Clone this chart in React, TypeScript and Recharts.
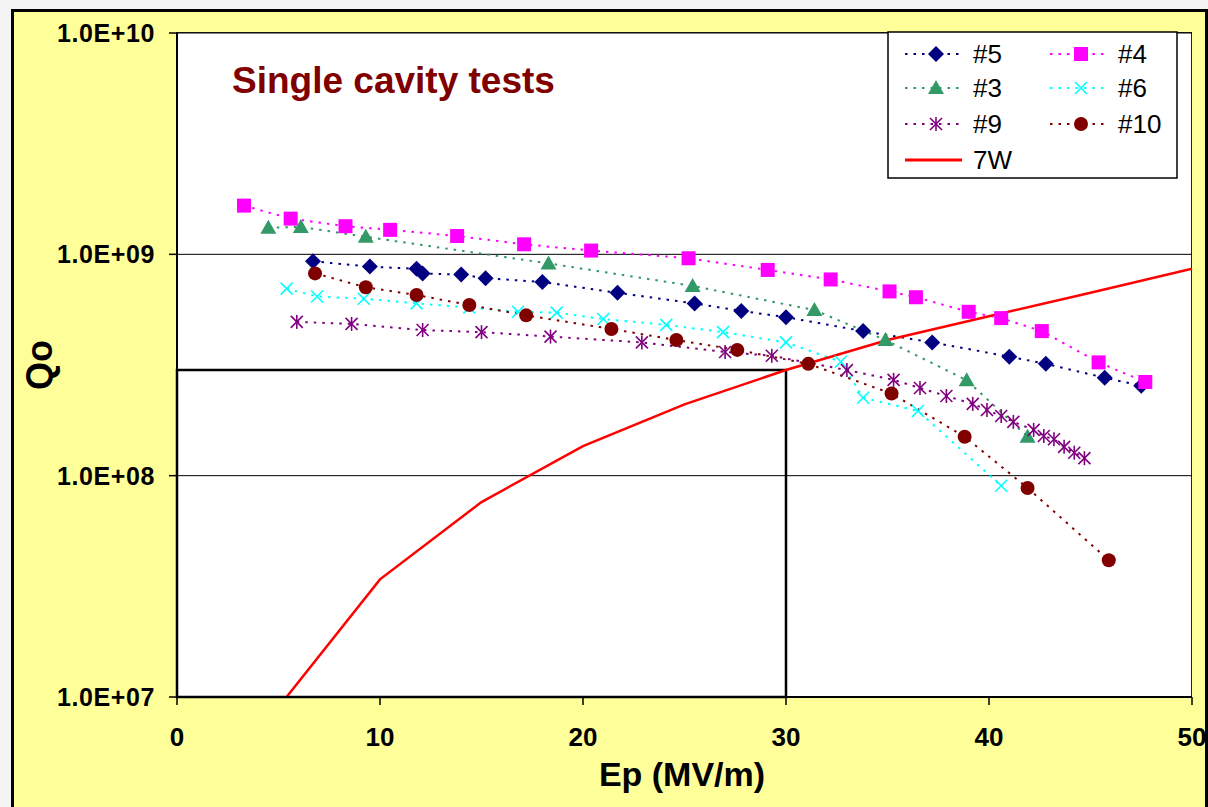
import React from "react";
import {
  ComposedChart,
  Line,
  XAxis,
  YAxis,
  CartesianGrid,
  ReferenceArea,
} from "recharts";

// Ep (MV/m) and Qo, per cavity
const ep5 = [6.7, 9.5, 11.8, 12.1, 14.0, 15.2, 18.0, 21.7, 25.5, 27.8, 30.0, 33.8, 37.2, 41.0, 42.8, 45.7, 47.5];
const q5 = [9.3e8, 8.8e8, 8.6e8, 8.2e8, 8.1e8, 7.8e8, 7.5e8, 6.7e8, 6.0e8, 5.55e8, 5.2e8, 4.5e8, 4.0e8, 3.45e8, 3.2e8, 2.77e8, 2.55e8];

const ep4 = [3.3, 5.6, 8.3, 10.5, 13.8, 17.1, 20.4, 25.2, 29.1, 32.2, 35.1, 36.4, 39.0, 40.6, 42.6, 45.4, 47.7];
const q4 = [1.66e9, 1.45e9, 1.34e9, 1.29e9, 1.21e9, 1.11e9, 1.04e9, 9.6e8, 8.5e8, 7.7e8, 6.8e8, 6.4e8, 5.5e8, 5.15e8, 4.5e8, 3.25e8, 2.65e8];

const ep3 = [4.5, 6.1, 9.3, 18.3, 25.4, 31.4, 34.9, 38.9, 41.9];
const q3 = [1.32e9, 1.33e9, 1.2e9, 9.1e8, 7.2e8, 5.6e8, 4.1e8, 2.7e8, 1.5e8];

const ep6 = [5.4, 6.9, 9.2, 11.8, 14.4, 16.8, 18.7, 21.0, 24.1, 26.9, 30.0, 32.7, 33.8, 36.5, 40.6];
const q6 = [7.0e8, 6.45e8, 6.3e8, 6.0e8, 5.75e8, 5.5e8, 5.45e8, 5.1e8, 4.8e8, 4.45e8, 4.0e8, 3.27e8, 2.25e8, 1.96e8, 9.0e7];

const ep9 = [5.9, 8.6, 12.1, 15.0, 18.4, 22.9, 27.0, 29.3, 33.0, 35.3, 36.6, 37.9, 39.2, 39.9, 40.6, 41.2, 42.2, 42.7, 43.2, 43.7, 44.2, 44.7];
const q9 = [4.95e8, 4.85e8, 4.55e8, 4.45e8, 4.25e8, 4.0e8, 3.62e8, 3.48e8, 3.0e8, 2.71e8, 2.49e8, 2.29e8, 2.11e8, 1.98e8, 1.86e8, 1.75e8, 1.61e8, 1.51e8, 1.46e8, 1.35e8, 1.27e8, 1.2e8];

const ep10 = [6.8, 9.3, 11.8, 14.4, 17.2, 21.4, 24.6, 27.6, 31.1, 35.2, 38.8, 41.9, 45.9];
const q10 = [8.2e8, 7.1e8, 6.55e8, 5.9e8, 5.3e8, 4.6e8, 4.1e8, 3.7e8, 3.2e8, 2.35e8, 1.5e8, 8.8e7, 4.15e7];

const ep7w = [5, 10, 15, 20, 25, 30, 35, 40, 45, 50];
const q7w = [9.0e6, 3.4e7, 7.6e7, 1.36e8, 2.1e8, 3.0e8, 4.1e8, 5.25e8, 6.7e8, 8.6e8];

const xTicks = [0, 10, 20, 30, 40, 50];
const yTicks = [1e7, 1e8, 1e9, 1e10];

const FONT = "'Liberation Sans', Arial, sans-serif";

const zip = (xs: number[], ys: number[]) => xs.map((ep, i) => ({ ep, q: ys[i] }));

type Shape = "diamond" | "square" | "triangle" | "x" | "star" | "circle";

function Marker({ shape, cx, cy, color }: { shape: Shape; cx: number; cy: number; color: string }) {
  const r = 7;
  switch (shape) {
    case "diamond":
      return <polygon points={`${cx},${cy - r - 1} ${cx + r + 1},${cy} ${cx},${cy + r + 1} ${cx - r - 1},${cy}`} fill={color} />;
    case "square":
      return <rect x={cx - r} y={cy - r} width={2 * r} height={2 * r} fill={color} />;
    case "triangle":
      return <polygon points={`${cx},${cy - r - 1} ${cx + r + 1},${cy + r - 1} ${cx - r - 1},${cy + r - 1}`} fill={color} />;
    case "circle":
      return <circle cx={cx} cy={cy} r={r} fill={color} />;
    case "x":
      return (
        <g stroke={color} strokeWidth={1.6}>
          <line x1={cx - 6} y1={cy - 6} x2={cx + 6} y2={cy + 6} />
          <line x1={cx - 6} y1={cy + 6} x2={cx + 6} y2={cy - 6} />
        </g>
      );
    case "star":
      return (
        <g stroke={color} strokeWidth={1.6}>
          <line x1={cx - 6} y1={cy - 6} x2={cx + 6} y2={cy + 6} />
          <line x1={cx - 6} y1={cy + 6} x2={cx + 6} y2={cy - 6} />
          <line x1={cx} y1={cy - 7} x2={cx} y2={cy + 7} />
        </g>
      );
  }
  return null;
}

const series: { name: string; data: { ep: number; q: number }[]; color: string; shape: Shape }[] = [
  { name: "#5", data: zip(ep5, q5), color: "#000080", shape: "diamond" },
  { name: "#4", data: zip(ep4, q4), color: "#FF00FF", shape: "square" },
  { name: "#3", data: zip(ep3, q3), color: "#339966", shape: "triangle" },
  { name: "#6", data: zip(ep6, q6), color: "#00FFFF", shape: "x" },
  { name: "#9", data: zip(ep9, q9), color: "#800080", shape: "star" },
  { name: "#10", data: zip(ep10, q10), color: "#800000", shape: "circle" },
];

const fmtExp = (v: number) => {
  const e = Math.round(Math.log10(v));
  return `1.0E+${String(e).padStart(2, "0")}`;
};

function LegendBox() {
  const rows = [
    { s: series[0], x: 905, y: 54 },
    { s: series[1], x: 1050, y: 54 },
    { s: series[2], x: 905, y: 88 },
    { s: series[3], x: 1050, y: 88 },
    { s: series[4], x: 905, y: 124 },
    { s: series[5], x: 1050, y: 124 },
  ];
  return (
    <g>
      <rect x={888} y={32} width={289} height={146} fill="#fff" stroke="#000" strokeWidth={1.5} />
      {rows.map(({ s, x, y }) => (
        <g key={s.name}>
          <line x1={x} y1={y} x2={x + 57} y2={y} stroke={s.color} strokeWidth={2} strokeDasharray="2.5 6" />
          <Marker shape={s.shape} cx={x + 31} cy={y} color={s.color} />
          <text x={x + 68} y={y + 9} fontSize={26} fontFamily={FONT} fill="#000">
            {s.name}
          </text>
        </g>
      ))}
      <line x1={905} y1={160} x2={962} y2={160} stroke="#FF0000" strokeWidth={3} />
      <text x={973} y={169} fontSize={26} fontFamily={FONT} fill="#000">
        7W
      </text>
    </g>
  );
}

export default function App() {
  return (
    <div style={{ position: "absolute", left: 0, top: 0, width: 1208, height: 807, background: "#f4f4f4", overflow: "hidden" }}>
      <div
        style={{
          position: "absolute",
          left: 11,
          top: 9,
          width: 1197,
          height: 820,
          background: "#FFFF99",
          border: "3px solid #000",
          boxSizing: "border-box",
        }}
      />
      <div
        style={{
          position: "absolute",
          left: 176,
          top: 32,
          width: 1016,
          height: 666,
          background: "#fff",
          border: "1.5px solid #222",
          boxSizing: "border-box",
        }}
      />
      <div style={{ position: "absolute", left: 0, top: 0 }}>
        <ComposedChart width={1208} height={807} margin={{ top: 33, right: 16, bottom: 50, left: 0 }}>
          <CartesianGrid horizontal vertical={false} stroke="#000" strokeWidth={1} />
          <XAxis
            type="number"
            dataKey="ep"
            domain={[0, 50]}
            ticks={xTicks}
            height={60}
            allowDataOverflow
            axisLine={{ stroke: "#000", strokeWidth: 2 }}
            tickLine={{ stroke: "#000", strokeWidth: 1.5 }}
            tickSize={8}
            tickMargin={23}
            tick={{ fill: "#000", fontSize: 26, fontWeight: "bold", fontFamily: FONT }}
          />
          <YAxis
            type="number"
            scale="log"
            domain={[1e7, 1e10]}
            ticks={yTicks}
            allowDataOverflow
            width={177}
            tickFormatter={fmtExp}
            axisLine={{ stroke: "#000", strokeWidth: 2 }}
            tickLine={{ stroke: "#000", strokeWidth: 1.5 }}
            tickSize={8}
            tickMargin={14}
            tick={{ fill: "#000", fontSize: 25, fontWeight: "bold", fontFamily: FONT, letterSpacing: 0.6 }}
          />
          <ReferenceArea
            x1={0}
            x2={30}
            y1={1e7}
            y2={3e8}
            fill="none"
            fillOpacity={0}
            stroke="#000"
            strokeWidth={2.5}
            ifOverflow="visible"
          />
          {series.map((s) => (
            <Line
              key={s.name}
              data={s.data}
              dataKey="q"
              type="linear"
              stroke={s.color}
              strokeWidth={2}
              strokeDasharray="2.5 6"
              isAnimationActive={false}
              activeDot={false}
              legendType="none"
              dot={(p: any) => (
                <Marker key={`${s.name}-${p.index}`} shape={s.shape} cx={p.cx} cy={p.cy} color={s.color} />
              )}
            />
          ))}
          <Line
            data={zip(ep7w, q7w)}
            dataKey="q"
            type="linear"
            stroke="#FF0000"
            strokeWidth={2.5}
            dot={false}
            activeDot={false}
            isAnimationActive={false}
            legendType="none"
          />
        </ComposedChart>
      </div>
      <svg width={1208} height={807} style={{ position: "absolute", left: 0, top: 0, pointerEvents: "none" }}>
        <text x={232} y={93} fontSize={37} fontWeight="bold" fontFamily={FONT} fill="#800000">
          Single cavity tests
        </text>
        <text x={682} y={786} fontSize={34} fontWeight="bold" fontFamily={FONT} fill="#000" textAnchor="middle">
          Ep (MV/m)
        </text>
        <text
          x={52}
          y={365}
          fontSize={36}
          fontWeight="bold"
          fontFamily={FONT}
          fill="#000"
          textAnchor="middle"
          transform="rotate(-90, 52, 365)"
        >
          Qo
        </text>
        <LegendBox />
      </svg>
    </div>
  );
}
